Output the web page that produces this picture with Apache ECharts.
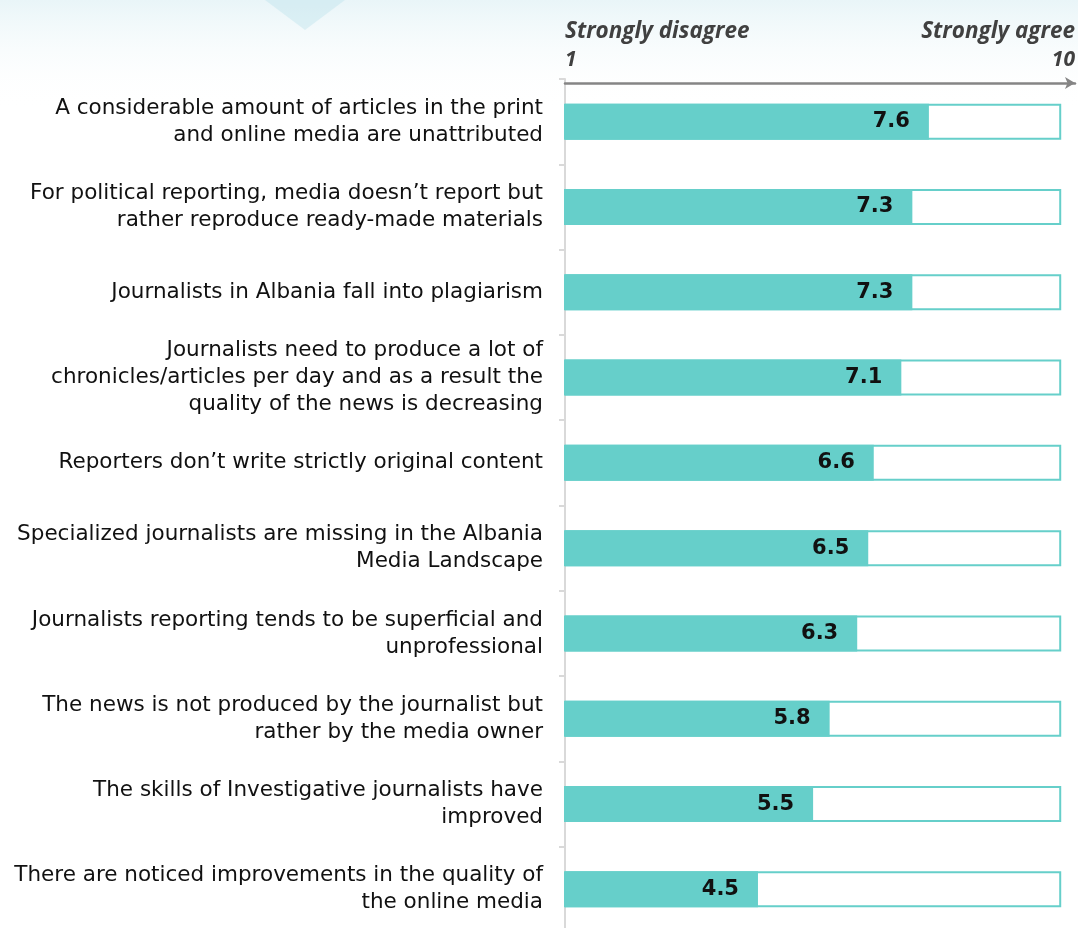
<!DOCTYPE html>
<html>
<head>
<meta charset="utf-8">
<script src="https://cdn.jsdelivr.net/npm/echarts@6/dist/echarts.min.js"></script>
<style>
  html, body { margin: 0; padding: 0; background: #fff; }
  #barChart { width: 1078px; height: 928px; }
</style>
</head>
<body>
<div id="barChart"></div>
<script>
var categories = [
  'A considerable amount of articles in the print\nand online media are unattributed',
  'For political reporting, media doesn\u2019t report but\nrather reproduce ready-made materials',
  'Journalists in Albania fall into plagiarism',
  'Journalists need to produce a lot of\nchronicles/articles per day and as a result the\nquality of the news is decreasing',
  'Reporters don\u2019t write strictly original content',
  'Specialized journalists are missing in the Albania\nMedia Landscape',
  'Journalists reporting tends to be superficial and\nunprofessional',
  'The news is not produced by the journalist but\nrather by the media owner',
  'The skills of Investigative journalists have\nimproved',
  'There are noticed improvements in the quality of\nthe online media'
];
var scores = [7.6, 7.3, 7.3, 7.1, 6.6, 6.5, 6.3, 5.8, 5.5, 4.5];
var scaleMin = 1;
var scaleMax = 10;
var scaleLabels = { 1: 'Strongly disagree', 10: 'Strongly agree' };

var chartDom = document.getElementById('barChart');
var chart = echarts.init(chartDom);

var teal = '#66cfca';
var headStyle = { fontFamily: 'Open Sans', fontStyle: 'italic', fontWeight: 'bold', color: '#404040' };

var option = {
  backgroundColor: '#fff',
  animation: false,
  graphic: [
    // soft decorative background at the top
    {
      type: 'rect', left: 0, top: 0, silent: true, z: -10,
      shape: { width: 1078, height: 110 },
      style: {
        fill: new echarts.graphic.LinearGradient(0, 0, 0, 1, [
          { offset: 0, color: '#e9f5f8' },
          { offset: 1, color: 'rgba(255,255,255,0)' }
        ])
      }
    },
    {
      type: 'polygon', silent: true, z: -9,
      shape: { points: [[265, 0], [345, 0], [305, 30]] },
      style: { fill: 'rgba(185,225,236,0.4)' }
    }
  ],
  grid: { left: 565, right: 3, top: 79, height: 853, outerBoundsMode: 'none', containLabel: false },
  xAxis: [
    {
      // value scale for the bars, the arrow runs a little past 10
      type: 'value',
      position: 'top',
      offset: -4,
      min: scaleMin,
      max: 10.25,
      interval: 1,
      splitLine: { show: false },
      axisTick: { show: false },
      axisLabel: { show: false },
      axisLine: {
        show: true,
        symbol: ['none', 'arrow'],
        symbolSize: [9, 10],
        lineStyle: { color: '#858585', width: 2.5 }
      }
    },
    {
      // end labels of the scale
      type: 'value',
      position: 'top',
      offset: 0,
      min: scaleMin,
      max: scaleMax,
      interval: 1,
      splitLine: { show: false },
      axisTick: { show: false },
      axisLine: { show: false },
      axisLabel: {
        margin: 6,
        hideOverlap: false,
        alignMinLabel: 'left',
        alignMaxLabel: 'right',
        formatter: function (v) {
          if (v === scaleMin || v === scaleMax) return '{t|' + scaleLabels[v] + '}\n{n|' + v + '}';
          return '';
        },
        rich: {
          t: Object.assign({ fontSize: 22.5, lineHeight: 30 }, headStyle),
          n: Object.assign({ fontSize: 21, lineHeight: 26 }, headStyle)
        }
      }
    }
  ],
  yAxis: {
    type: 'category',
    inverse: true,
    data: categories,
    axisLine: { show: true, lineStyle: { color: '#d9d9d9', width: 2 } },
    axisTick: { show: true, length: 6, lineStyle: { color: '#d9d9d9', width: 2 } },
    axisLabel: {
      margin: 22,
      align: 'right',
      fontFamily: 'DejaVu Sans',
      fontSize: 21.5,
      lineHeight: 27,
      color: '#111'
    }
  },
  series: [
    {
      name: 'scale',
      type: 'bar',
      xAxisIndex: 0,
      data: categories.map(function () { return scaleMax; }),
      barWidth: 36,
      barGap: '-100%',
      silent: true,
      itemStyle: { color: '#fff', borderColor: teal, borderWidth: 2 },
      z: 1
    },
    {
      name: 'score',
      type: 'bar',
      xAxisIndex: 0,
      data: scores,
      barWidth: 36,
      itemStyle: { color: teal },
      label: {
        show: true,
        position: 'insideRight',
        distance: 19,
        fontFamily: 'DejaVu Sans',
        fontWeight: 'bold',
        fontSize: 21,
        color: '#111',
        formatter: function (p) { return p.value.toFixed(1); }
      },
      z: 2
    }
  ]
};

chart.setOption(option);

window.addEventListener('resize', function () {
  chart.resize();
});
</script>
</body>
</html>
